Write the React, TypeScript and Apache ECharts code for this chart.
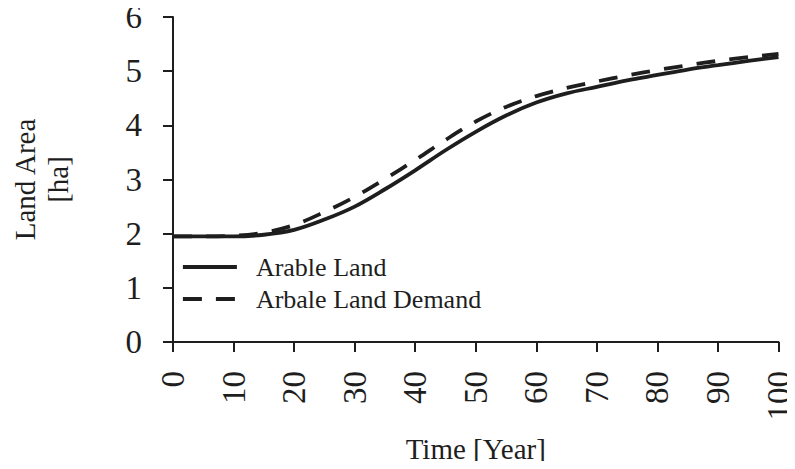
import React, { useEffect, useRef } from "react";
import * as echarts from "echarts";

// Simulation years and land area values (ha)
const years = [0, 5, 10, 15, 20, 25, 30, 35, 40, 45, 50, 55, 60, 65, 70, 75, 80, 85, 90, 95, 100];
const arableLand = [1.95, 1.95, 1.95, 1.98, 2.07, 2.26, 2.5, 2.82, 3.17, 3.54, 3.88, 4.18, 4.42, 4.59, 4.71, 4.83, 4.93, 5.03, 5.11, 5.19, 5.26];
const arableLandDemand = [1.95, 1.95, 1.96, 2.02, 2.16, 2.4, 2.68, 3.01, 3.36, 3.73, 4.07, 4.34, 4.54, 4.69, 4.81, 4.92, 5.02, 5.11, 5.19, 5.26, 5.32];
const seriesNames = ["Arable Land", "Arbale Land Demand"];

const FONT = "'Liberation Serif', 'Times New Roman', serif";
const INK = "#1e1e1e";

export default function App() {
  const ref = useRef<HTMLDivElement>(null);

  useEffect(() => {
    if (!ref.current) return;
    const chart = echarts.init(ref.current, undefined, { renderer: "svg" });
    const pairs = (vals: number[]) => years.map((y, i) => [y, vals[i]]);

    chart.setOption({
      animation: false,
      backgroundColor: "#ffffff",
      grid: { left: 157, right: 12, top: 17, bottom: 127, containLabel: false },
      legend: {
        orient: "vertical",
        left: 176,
        top: 249,
        itemWidth: 54,
        itemHeight: 14,
        itemGap: 6,
        itemStyle: { opacity: 0 },
        lineStyle: { width: 3.8 },
        textStyle: { fontFamily: FONT, fontSize: 26, color: INK, padding: [0, 0, 0, 14] },
        data: seriesNames,
      },
      xAxis: {
        type: "value",
        min: 0,
        max: 100,
        interval: 10,
        name: "Time [Year]",
        nameLocation: "middle",
        nameGap: 92,
        nameTextStyle: { fontFamily: FONT, fontSize: 29, color: INK },
        axisLine: { show: true, onZero: false, lineStyle: { color: INK, width: 2 } },
        axisTick: { show: true, inside: false, length: 10, lineStyle: { color: INK, width: 2 } },
        axisLabel: { rotate: 90, margin: 29, fontFamily: FONT, fontSize: 33, color: INK },
        splitLine: { show: false },
      },
      yAxis: {
        type: "value",
        min: 0,
        max: 6,
        interval: 1,
        name: "Land Area\n[ha]",
        nameLocation: "middle",
        nameRotate: 90,
        nameGap: 99,
        nameTextStyle: { fontFamily: FONT, fontSize: 29, color: INK, lineHeight: 33, align: "center" },
        axisLine: { show: true, lineStyle: { color: INK, width: 2 } },
        axisTick: { show: true, inside: false, length: 10, lineStyle: { color: INK, width: 2 } },
        axisLabel: { margin: 31, fontFamily: FONT, fontSize: 33, color: INK },
        splitLine: { show: false },
      },
      series: [
        {
          name: seriesNames[0],
          type: "line",
          data: pairs(arableLand),
          smooth: 0.35,
          symbol: "none",
          showSymbol: false,
          lineStyle: { color: INK, width: 3.8, type: "solid" },
          itemStyle: { color: INK },
          z: 3,
        },
        {
          name: seriesNames[1],
          type: "line",
          data: pairs(arableLandDemand),
          smooth: 0.35,
          symbol: "none",
          showSymbol: false,
          lineStyle: { color: INK, width: 3.8, type: [19, 14] },
          itemStyle: { color: INK },
          z: 2,
        },
      ],
    });

    return () => chart.dispose();
  }, []);

  return <div ref={ref} style={{ width: 795, height: 469, margin: -8 }} />;
}
